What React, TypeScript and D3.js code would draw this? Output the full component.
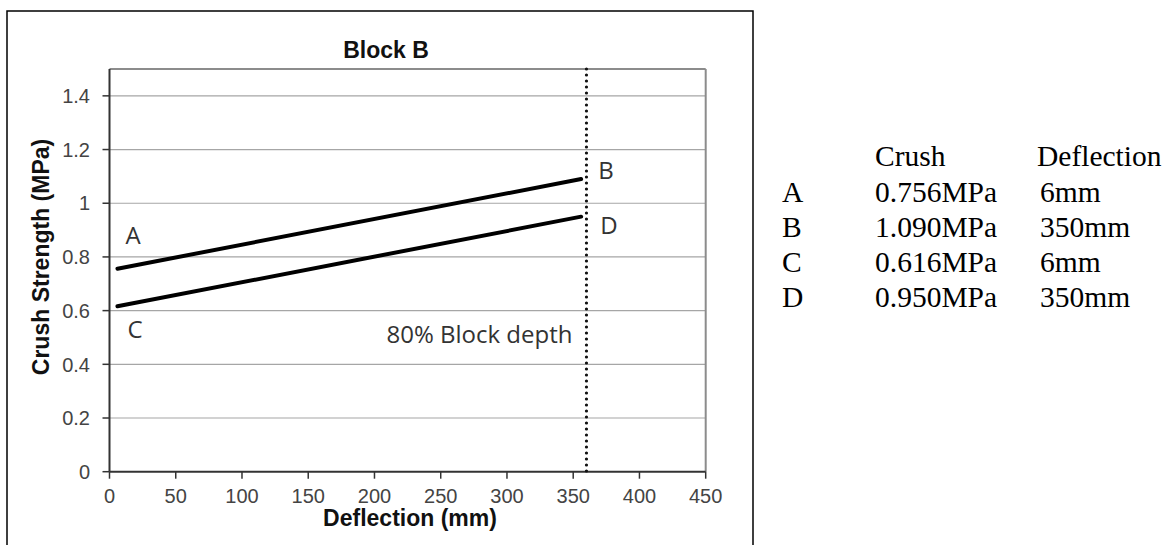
import React from "react";
import * as d3 from "d3";

const deflection = [6, 356];
const lineAB = [0.756, 1.09];
const lineCD = [0.616, 0.95];
const depthLine = 360;
const depthLabel = "80% Block depth";
const depthLabelY = 0.478;
const xTicks = [0, 50, 100, 150, 200, 250, 300, 350, 400, 450];
const yTicks = [0, 0.2, 0.4, 0.6, 0.8, 1, 1.2, 1.4];
const tableLetters = ["A", "B", "C", "D"];
const tableCrush = ["0.756MPa", "1.090MPa", "0.616MPa", "0.950MPa"];
const tableDeflection = ["6mm", "350mm", "6mm", "350mm"];

const W = 1176;
const H = 545;
const plot = { left: 109.5, right: 705.7, top: 69, bottom: 471.7 };

export default function App() {
  const x = d3.scaleLinear().domain([0, 450]).range([plot.left, plot.right]);
  const y = d3.scaleLinear().domain([0, 1.5]).range([plot.bottom, plot.top]);
  const line = d3
    .line<[number, number]>()
    .x((d) => x(d[0]))
    .y((d) => y(d[1]));
  const ab = deflection.map((d, i) => [d, lineAB[i]] as [number, number]);
  const cd = deflection.map((d, i) => [d, lineCD[i]] as [number, number]);
  const sans = "'Liberation Sans', Arial, sans-serif";
  const calib = "'Open Sans', sans-serif";
  const serif = "'Liberation Serif', 'Times New Roman', serif";
  const tickFmt = (v: number) => d3.format("")(+v.toFixed(1));

  return (
    <svg
      width={W}
      height={H}
      style={{ position: "absolute", left: 0, top: 0, background: "#fff" }}
    >
      <rect x={0} y={0} width={W} height={H} fill="#fff" />
      {/* outer frame */}
      <path d={`M7,${H + 5} V11 H753 V${H + 5}`} fill="none" stroke="#000" strokeWidth={1.5} />

      {/* title */}
      <text x={386} y={58} textAnchor="middle" fontFamily={sans} fontWeight="bold" fontSize={23} fill="#111">
        Block B
      </text>

      {/* gridlines */}
      {yTicks.slice(1).map((t) => (
        <line key={t} x1={plot.left} x2={plot.right} y1={y(t)} y2={y(t)} stroke="#a6a6a6" strokeWidth={1.2} />
      ))}
      {/* plot border top/right */}
      <line x1={plot.left} x2={plot.right} y1={plot.top} y2={plot.top} stroke="#8c8c8c" strokeWidth={2} />
      <line x1={plot.right} x2={plot.right} y1={plot.top} y2={plot.bottom} stroke="#8c8c8c" strokeWidth={2} />

      {/* axes */}
      <line x1={plot.left} x2={plot.left} y1={plot.top} y2={plot.bottom} stroke="#333" strokeWidth={2} />
      <line x1={plot.left} x2={plot.right} y1={plot.bottom} y2={plot.bottom} stroke="#333" strokeWidth={2} />
      {yTicks.map((t) => (
        <g key={"y" + t}>
          <line x1={plot.left - 7} x2={plot.left} y1={y(t)} y2={y(t)} stroke="#333" strokeWidth={1.5} />
          <text x={90} y={y(t)} dy="0.36em" textAnchor="end" fontFamily={sans} fontSize={20} fill="#444">
            {tickFmt(t)}
          </text>
        </g>
      ))}
      {xTicks.map((t) => (
        <g key={"x" + t}>
          <line x1={x(t)} x2={x(t)} y1={plot.bottom} y2={plot.bottom + 7} stroke="#333" strokeWidth={1.5} />
          <text x={x(t)} y={503} textAnchor="middle" fontFamily={sans} fontSize={20} fill="#444">
            {t}
          </text>
        </g>
      ))}

      {/* axis titles */}
      <text x={410} y={526} textAnchor="middle" fontFamily={sans} fontWeight="bold" fontSize={23} fill="#111">
        Deflection (mm)
      </text>
      <text
        transform={`translate(49,257) rotate(-90)`}
        textAnchor="middle"
        fontFamily={sans}
        fontWeight="bold"
        fontSize={23}
        fill="#111"
      >
        Crush Strength (MPa)
      </text>

      {/* depth line */}
      <line
        x1={x(depthLine)}
        x2={x(depthLine)}
        y1={plot.top}
        y2={plot.bottom}
        stroke="#111"
        strokeWidth={3.2}
        strokeLinecap="round"
        strokeDasharray="0 6"
      />
      <text x={x(depthLine) - 14} y={y(depthLabelY)} textAnchor="end" fontFamily={calib} fontSize={24} fill="#333">
        {depthLabel}
      </text>

      {/* data lines */}
      <path d={line(ab) || ""} fill="none" stroke="#000" strokeWidth={4} strokeLinecap="round" />
      <path d={line(cd) || ""} fill="none" stroke="#000" strokeWidth={4} strokeLinecap="round" />

      {/* point labels */}
      <text x={x(deflection[0]) + 8} y={y(lineAB[0]) - 25} fontFamily={calib} fontSize={24} fill="#333">A</text>
      <text x={x(deflection[1]) + 17} y={y(lineAB[1])} fontFamily={calib} fontSize={24} fill="#333">B</text>
      <text x={x(deflection[0]) + 10} y={y(lineCD[0]) + 32} fontFamily={calib} fontSize={24} fill="#333">C</text>
      <text x={x(deflection[1]) + 19} y={y(lineCD[1]) + 17} fontFamily={calib} fontSize={24} fill="#333">D</text>

      {/* table */}
      <g fontFamily={serif} fontSize={29.5} fill="#000">
        <text x={875} y={166}>Crush</text>
        <text x={1037} y={166}>Deflection</text>
        {tableLetters.map((l, i) => (
          <g key={l}>
            <text x={782} y={202 + i * 35}>{l}</text>
            <text x={875} y={202 + i * 35}>{tableCrush[i]}</text>
            <text x={1040} y={202 + i * 35}>{tableDeflection[i]}</text>
          </g>
        ))}
      </g>
    </svg>
  );
}
